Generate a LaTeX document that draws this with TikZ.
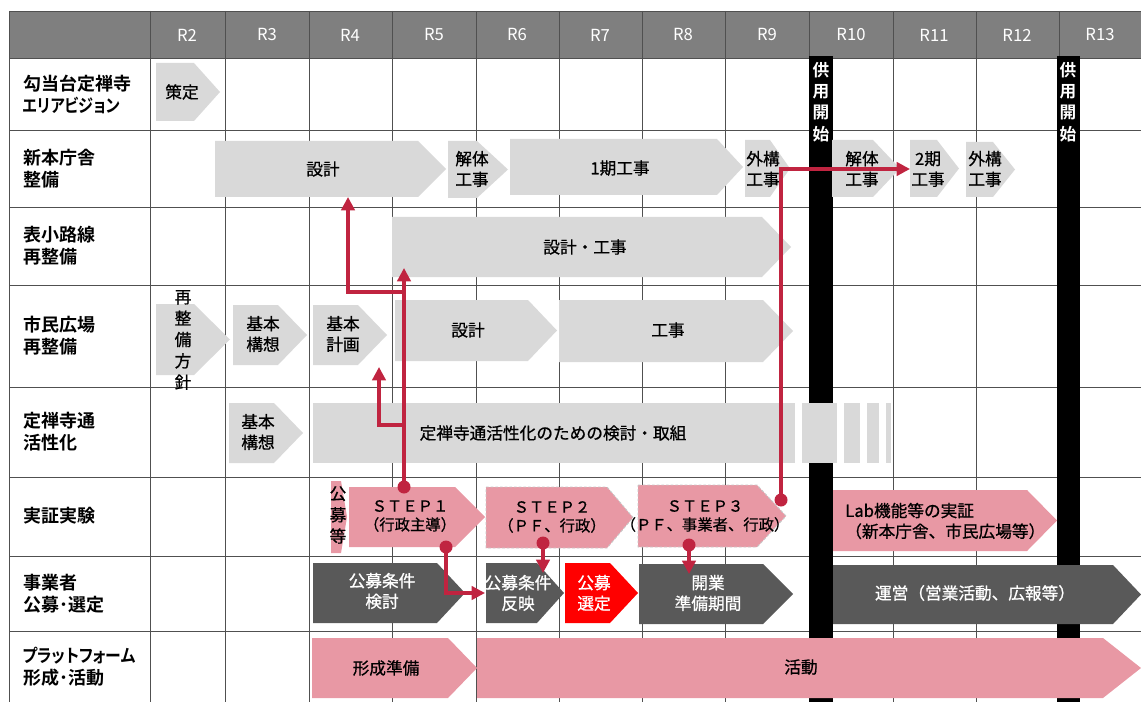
\documentclass[tikz,border=0pt]{standalone}
\usepackage{fontspec}
\setmainfont{Noto Sans CJK JP}[BoldFont={* Bold}]
\newfontfamily\lblfont{Noto Sans CJK JP}[BoldFont={* Bold},RawFeature=+palt]
\newfontfamily\boxfont{Noto Sans CJK JP}[FakeBold=0.8]
\usetikzlibrary{arrows.meta}

\definecolor{hdgray}{RGB}{127,127,127}
\definecolor{ltgray}{RGB}{217,217,217}
\definecolor{dkgray}{RGB}{89,89,89}
\definecolor{pinkc}{RGB}{232,152,164}
\definecolor{linkred}{RGB}{192,36,64}
\definecolor{gridc}{RGB}{80,80,80}

% chevron: style, x left, x point start, x tip, y top, y bottom
\newcommand{\chev}[6]{\path[#1] (#2,#5) -- (#3,#5) -- (#4,{(#5+#6)/2}) -- (#3,#6) -- (#2,#6) -- cycle;}

\tikzset{
  hdr/.style={text=white, inner sep=0pt, font=\fontsize{12.5}{14}\selectfont},
  rowlbl/.style={anchor=west, align=left, inner sep=0pt, font=\lblfont\bfseries\fontsize{13.5}{16.5}\selectfont},
  boxtxt/.style={align=center, inner sep=0pt, font=\boxfont\fontsize{12.5}{15.5}\selectfont},
  wtxt/.style={boxtxt, text=white},
  steptxt/.style={align=center, inner sep=0pt, font=\boxfont\fontsize{11.5}{14}\selectfont},
  vtxt/.style={align=center, inner sep=0pt, font=\boxfont\fontsize{12.5}{16}\selectfont},
  bartxt/.style={vtxt, text=white, font=\bfseries\fontsize{12.5}{16}\selectfont},
  lgray/.style={fill=ltgray},
  pbox/.style={fill=pinkc},
  dbox/.style={fill=dkgray},
  rbox/.style={fill=red},
  dashbox/.style={fill=pinkc, draw=gray!45, dash pattern=on 2pt off 1.5pt, line width=0.7pt},
  gline/.style={draw=gridc, line width=0.6pt},
  link/.style={draw=linkred, line width=2.4pt, -{Triangle[length=10pt,width=10pt]}},
  dot/.style={fill=linkred}
}

\begin{document}
\begin{tikzpicture}[x=0.75pt,y=-0.75pt]
    \useasboundingbox (0,0) rectangle (1141,702);

    % header
    \fill[hdgray] (9,11) rectangle (1141,58);
    \foreach \xx in {9,150,225,309,392,476,559,642,725,809,893,976,1059}
        \draw[gline] (\xx,11) -- (\xx,702);
    \foreach \yy in {11,58,130,207,285,387,477,556,631}
        \draw[gline] (9,\yy) -- (1141,\yy);
    \foreach \lbl/\xx in {R2/187,R3/267,R4/350,R5/434,R6/517,R7/600,R8/683,R9/767,R10/851,R11/934,R12/1017,R13/1100}
        \node[hdr] (h\lbl) at (\xx,35) {\lbl};

    % row labels
    \node[rowlbl] (lab1) at (23,94) {勾当台定禅寺\\\scalebox{0.84}[1]{エリアビジョン}};
    \node[rowlbl] (lab2) at (23,169) {新本庁舎\\整備};
    \node[rowlbl] (lab3) at (23,246) {表小路線\\再整備};
    \node[rowlbl] (lab4) at (23,336) {市民広場\\再整備};
    \node[rowlbl] (lab5) at (23,432) {定禅寺通\\活性化};
    \node[rowlbl] (lab6) at (23,516) {実証実験};
    \node[rowlbl] (lab7) at (23,594) {事業者\\公募･選定};
    \node[rowlbl] (lab8) at (23,667) {\scalebox{0.88}[1]{プラットフォーム}\\形成･活動};

    % opening bars
    \fill[black] (809,56) rectangle (833,702);
    \fill[black] (1057,56) rectangle (1080,702);
    \node[bartxt] (open1) at (821,102) {供\\用\\開\\始};
    \node[bartxt] (open2) at (1068,102) {供\\用\\開\\始};

    % vision
    \chev{lgray}{156}{194}{220}{63}{121}
    \node[boxtxt] (sakutei) at (182,92) {策定};

    % new city hall
    \chev{lgray}{215}{418}{446}{141}{197}
    \chev{lgray}{448}{477}{508}{141}{198}
    \chev{lgray}{510}{717}{743}{139}{195}
    \chev{lgray}{745}{770}{790}{140}{197}
    \chev{lgray}{832}{873}{900}{140}{197}
    \chev{lgray}{910}{937}{959}{140}{197}
    \chev{lgray}{966}{993}{1015}{142}{197}
    \node[boxtxt] (hallsekkei) at (323,169) {設計};
    \node[boxtxt] (kaitai1) at (472,169) {解体\\工事};
    \node[boxtxt] (kouji1) at (620,168) {1期工事};
    \node[boxtxt] (gaikou1) at (763,169) {外構\\工事};
    \node[boxtxt] (kaitai2) at (862,169) {解体\\工事};
    \node[boxtxt] (kouji2) at (928,169) {2期\\工事};
    \node[boxtxt] (gaikou2) at (985,169) {外構\\工事};

    % street
    \chev{lgray}{392}{762}{791}{217}{277}
    \node[boxtxt] (street) at (585,247) {設計・工事};

    % plaza
    \chev{lgray}{156}{194}{230}{304}{375}
    \chev{lgray}{233}{278}{307}{305}{365}
    \chev{lgray}{313}{358}{387}{305}{365}
    \chev{lgray}{395}{528}{557}{300}{361}
    \chev{lgray}{559}{763}{793}{300}{362}
    \node[vtxt] (houshin) at (183,340) {再\\整\\備\\方\\針};
    \node[boxtxt] (kousou1) at (263,334) {基本\\構想};
    \node[boxtxt] (keikaku) at (343,334) {基本\\計画};
    \node[boxtxt] (plazasekkei) at (468,330) {設計};
    \node[boxtxt] (plazakouji) at (668,330) {工事};

    % jozenji-dori
    \chev{lgray}{229}{274}{303}{403}{463}
    \fill[ltgray] (313,403) rectangle (795,463);
    \foreach \xa/\xb in {802/837,844/860,867/879,886/891}
        \fill[ltgray] (\xa,403) rectangle (\xb,463);
    \node[boxtxt] (kousou2) at (258,432) {基本\\構想};
    \node[boxtxt] (torikumi) at (553,433) {定禅寺通活性化のための検討・取組};

    % trials
    \chev{pbox}{331}{341}{347}{481}{553}
    \chev{pbox}{349}{455}{485}{487}{547}
    \chev{dashbox}{486}{607}{633}{487}{548}
    \chev{dashbox}{638}{757}{786}{485}{547}
    \chev{pbox}{833}{1027}{1057}{490}{551}
    \node[vtxt] (boshu) at (338,515) {公\\募\\等};
    \node[steptxt] (step1) at (410,516) {ＳＴＥＰ１\\（行政主導）};
    \node[steptxt] (step2) at (552,517) {ＳＴＥＰ２\\（ＰＦ、行政）};
    \node[steptxt] (step3) at (705,516) {ＳＴＥＰ３\\（ＰＦ、事業者、行政）};
    \node[boxtxt, anchor=west, align=left] (lab) at (845,521) {Lab機能等の実証\\（新本庁舎、市民広場等）};

    % operators
    \chev{dbox}{313}{437}{465}{563}{623}
    \chev{dbox}{486}{537}{564}{563}{623}
    \chev{rbox}{565}{610}{638}{563}{623}
    \chev{dbox}{639}{763}{793}{564}{624}
    \chev{dbox}{833}{1113}{1141}{565}{624}
    \node[wtxt] (kentou) at (382,591) {公募条件\\検討};
    \node[wtxt] (hanei) at (518,593) {公募条件\\反映};
    \node[wtxt] (sentei) at (594,593) {公募\\選定};
    \node[wtxt] (junbi) at (708,593) {開業\\準備期間};
    \node[wtxt] (unei) at (975,593) {運営（営業活動、広報等）};

    % platform
    \chev{pbox}{312}{448}{477}{638}{698}
    \chev{pbox}{477}{1103}{1141}{638}{698}
    \node[boxtxt] (keisei) at (386,668) {形成準備};
    \node[boxtxt] (katsudou) at (801,667) {活動};

    % links
    \coordinate (s1top) at (404,487);
    \coordinate (s1bot) at (446,547);
    \coordinate (s2bot) at (543,543);
    \coordinate (s3bot) at (689,545);
    \coordinate (s3end) at (781,500);
    \coordinate (j1) at (404,292);
    \coordinate (j2) at (404,425);
    \coordinate (toStreet) at (404,268);
    \coordinate (toHall) at (348,197);
    \coordinate (toPlan) at (379,367);
    \coordinate (toHanei) at (485,593);
    \coordinate (toHanei2) at (543,573);
    \coordinate (toJunbi) at (689,574);
    \coordinate (toKouji2) at (910,169);
    \draw[link] (s1top) -- (toStreet);
    \draw[link] (j1) -| (toHall);
    \draw[link] (j2) -| (toPlan);
    \draw[link] (s1bot) |- (toHanei);
    \draw[link] (s2bot) -- (toHanei2);
    \draw[link] (s3bot) -- (toJunbi);
    \draw[link] (s3end) |- (toKouji2);
    \foreach \d in {s1top,s1bot,s2bot,s3bot,s3end}
        \fill[dot] (\d) circle (6.5);
\end{tikzpicture}
\end{document}
